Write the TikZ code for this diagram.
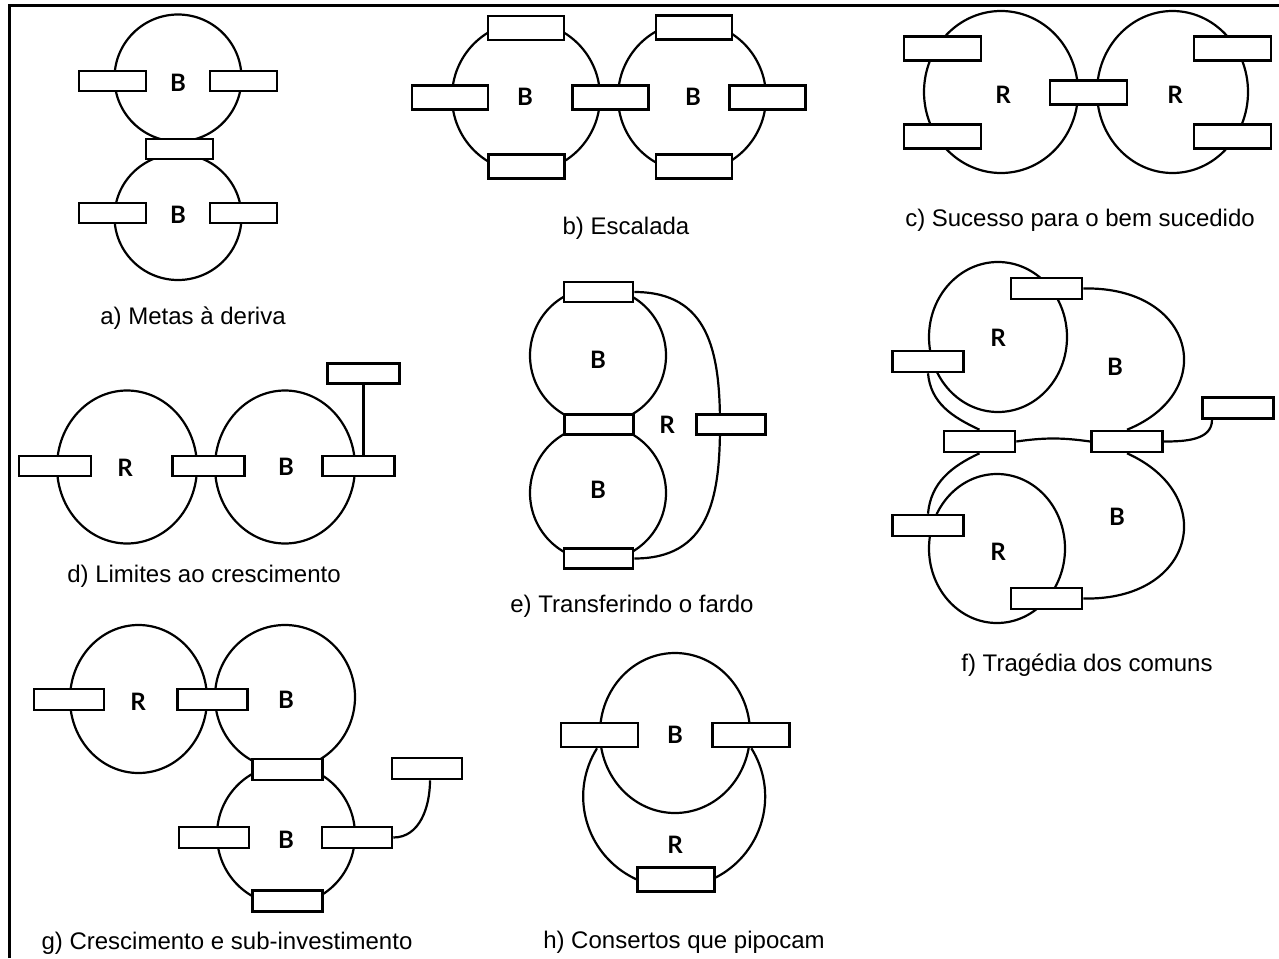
\documentclass[tikz,border=0pt]{standalone}
\usepackage{fontspec}
\setmainfont{Liberation Sans}
\newfontfamily\handfont{Lato}
\usetikzlibrary{shapes.geometric}
\tikzset{
  cloop/.style={ellipse, draw, line width=2.2pt, inner sep=0pt, outer sep=0pt},
  stockbox/.style={rectangle, draw, fill=white, line width=2.6pt, inner sep=0pt, minimum width=70pt, minimum height=21pt},
  link/.style={line width=2.2pt},
  sign/.style={font=\handfont\bfseries\fontsize{24}{24}\selectfont, inner sep=0pt},
  capt/.style={font=\fontsize{24}{28}\selectfont, inner sep=0pt},
  frame/.style={line width=3pt},
}
% loop outline: name, x, y, width, height (y counted downwards)
\newcommand{\loopat}[5]{\node[cloop, minimum width=#4pt, minimum height=#5pt] (#1) at (#2,-#3) {};}
% variable box: name, x, y
\newcommand{\stock}[3]{\node[stockbox] (#1) at (#2,-#3) {};}
% loop letters
\newcommand{\signs}[1]{\foreach \nm/\x/\y/\lab in {#1} \node[sign] (\nm) at (\x,-\y) {\lab};}

\begin{document}
\begin{tikzpicture}[x=1pt,y=1pt]
  \useasboundingbox (0,0) rectangle (1279,-958);
  \draw[frame] (9.5,-958) -- (9.5,-6) -- (1279,-6);

  % a) two balancing loops, stacked
  \begin{scope}[stockbox/.append style={minimum width=67pt, minimum height=20pt}]
    \loopat{aT}{178}{78}{127}{127}
    \loopat{aB}{178}{217}{127}{126}
    \stock{a1}{112.5}{81}
    \stock{a2}{243.5}{81}
    \stock{a3}{179.5}{149}
    \stock{a4}{112.5}{213}
    \stock{a5}{243.5}{213}
    \signs{aS1/178/83/B, aS2/178/215/B}
    \node[capt] (capA) at (193,-318) {a) Metas à deriva};
  \end{scope}

  % b) two balancing loops side by side
  \begin{scope}[stockbox/.append style={minimum width=76pt, minimum height=24pt}]
    \loopat{bL}{526}{97}{148}{150}
    \loopat{bR}{692}{97}{148}{150}
    \stock{b1}{526}{28}
    \stock{b2}{526.5}{166.5}
    \stock{b3}{450}{97.5}
    \stock{b4}{610.5}{97.5}
    \stock{b5}{694}{27.5}
    \stock{b6}{694}{166.5}
    \stock{b7}{767.5}{97.5}
    \signs{bS1/525/97/B, bS2/693/97/B}
    \node[capt] (capB) at (626,-228) {b) Escalada};
  \end{scope}

  % c) two reinforcing loops
  \begin{scope}[stockbox/.append style={minimum width=77pt, minimum height=24pt}]
    \loopat{cL}{1001}{92}{154}{162}
    \loopat{cR}{1172.5}{92}{151}{162}
    \stock{c1}{942.5}{48.5}
    \stock{c2}{942.5}{136.5}
    \stock{c3}{1088.5}{92.5}
    \stock{c4}{1232.5}{48.5}
    \stock{c5}{1232.5}{136.5}
    \signs{cS1/1003/95/R, cS2/1175/95/R}
    \node[capt] (capC) at (1080,-220) {c) Sucesso para o bem sucedido};
  \end{scope}

  % d) R feeding B, with a limit on top
  \begin{scope}[stockbox/.append style={minimum width=72pt, minimum height=20pt}]
    \loopat{dL}{127}{467}{140}{153}
    \loopat{dR}{285}{467}{140}{153}
    \stock{d1}{55}{466}
    \stock{d2}{208.5}{466}
    \stock{d3}{358.5}{466}
    \stock{d4}{363.5}{373.5}
    \draw[link] (d4.south) -- (d4.south |- d3.north);
    \signs{dS1/125/468/R, dS2/286/467/B}
    \node[capt] (capD) at (204,-576) {d) Limites ao crescimento};
  \end{scope}

  % e) two B loops and an outer R loop
  \begin{scope}[stockbox/.append style={minimum width=69pt, minimum height=20pt}]
    \loopat{eT}{598}{355.5}{136}{136}
    \loopat{eB}{598}{493}{136}{136}
    \stock{e1}{598.5}{292}
    \stock{e2}{599}{424.5}
    \stock{e3}{598.5}{558.5}
    \coordinate (eR) at (720,-425);
    \draw[link] (e1.east) to[out=0,in=90,looseness=1.2] (eR) to[out=-90,in=0,looseness=1.2] (e3.east);
    \stock{e4}{731}{424.5}
    \signs{eS1/598/360/B, eS2/598/490/B, eS3/667/425/R}
    \node[capt] (capE) at (632,-606) {e) Transferindo o fardo};
  \end{scope}

  % f) two R loops inside two B loops
  \begin{scope}[stockbox/.append style={minimum width=71pt, minimum height=21pt}]
    \loopat{fRt}{998}{337}{138}{150}
    \loopat{fRb}{997}{548.5}{136}{149}
    \stock{f1}{1046.5}{288.5}
    \stock{f2}{928}{361.5}
    \stock{f3}{979.5}{441.5}
    \stock{f4}{1127}{441.5}
    \stock{f5}{1238}{408}
    \stock{f6}{928}{525.5}
    \stock{f7}{1046.5}{598.5}
    \draw[link] (f1.east) .. controls (1195,-286) and (1220,-392) .. (f4.north);
    \draw[link] (f2.south) to[out=-85,in=155] (f3.north);
    \draw[link] (f3.east) to[bend left=8] (f4.west);
    \draw[link] (f4.east) to[out=0,in=-90] ([xshift=-26pt]f5.south);
    \draw[link] (f3.south) to[out=-155,in=85] (f6.north);
    \draw[link] (f4.south) .. controls (1220,-495) and (1195,-601) .. (f7.east);
    \signs{fS1/998/338/R, fS2/1115/367/B, fS3/1117/517/B, fS4/998/552/R}
    \node[capt] (capF) at (1087,-665) {f) Tragédia dos comuns};
  \end{scope}

  % g) R loop, B loop and a second B loop below
  \begin{scope}
    \loopat{gR}{138.5}{699}{137}{148}
    \loopat{gB1}{285}{697}{140}{144}
    \loopat{gB2}{286}{835}{138}{140}
    \stock{g1}{69}{699.5}
    \stock{g2}{212.5}{699.5}
    \stock{g3}{287.5}{769.5}
    \stock{g4}{214}{837.5}
    \stock{g5}{357}{837.5}
    \stock{g6}{287.5}{901}
    \stock{g7}{427}{768.5}
    \draw[link] (g5.east) to[out=0,in=-90] ([xshift=3pt]g7.south);
    \signs{gS1/138/702/R, gS2/286/700/B, gS3/286/840/B}
    \node[capt] (capG) at (227,-943) {g) Crescimento e sub-investimento};
  \end{scope}

  % h) B loop with an R loop underneath
  \begin{scope}[stockbox/.append style={minimum width=77pt, minimum height=24pt}]
    \loopat{hB}{675}{733}{150}{160}
    \stock{h1}{599.5}{735}
    \stock{h2}{751}{735}
    \draw[link] ([xshift=-2.5pt]h1.south) arc[start angle=148, end angle=392, radius=91];
    \stock{h3}{676}{879.5}
    \signs{hS1/675/735/B, hS2/675/845/R}
    \node[capt] (capH) at (684,-942) {h) Consertos que pipocam};
  \end{scope}
\end{tikzpicture}
\end{document}
